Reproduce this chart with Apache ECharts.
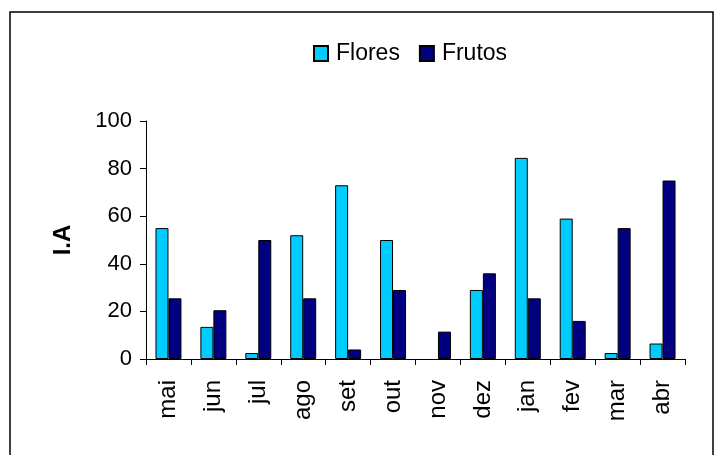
<!DOCTYPE html>
<html>
<head>
<meta charset="utf-8">
<script src="https://cdn.jsdelivr.net/npm/echarts@6/dist/echarts.min.js"></script>
<style>
html,body{margin:0;padding:0;background:#fff;}
#chart{width:720px;height:455px;}
</style>
</head>
<body>
<div id="chart"></div>
<script>
// meses
var meses = ['mai','jun','jul','ago','set','out','nov','dez','jan','fev','mar','abr'];
var flores = [55, 13.5, 2.5, 52, 73, 50, 0, 29, 84.5, 59, 2.5, 6.5];
var frutos = [25.5, 20.5, 50, 25.5, 4, 29, 11.5, 36, 25.5, 16, 55, 75];
var yTicks = [0, 20, 40, 60, 80, 100];

var fonte = 'Liberation Sans, Arial, sans-serif';

// barras com valor 0 ficam sem contorno
function semZero(arr){
  return arr.map(function(v){
    return v === 0 ? {value: v, itemStyle: {borderWidth: 0}} : v;
  });
}

var chart = echarts.init(document.getElementById('chart'));
var option = {
  backgroundColor: '#ffffff',
  animation: false,
  graphic: [{
    type: 'rect',
    shape: {x: 10, y: 12, width: 703, height: 460},
    style: {fill: 'none', stroke: '#000', lineWidth: 1.5},
    silent: true
  }],
  legend: {
    top: 37,
    left: 308,
    icon: 'rect',
    itemWidth: 14,
    itemHeight: 15,
    itemGap: 19,
    textStyle: {fontFamily: fonte, fontSize: 23, color: '#000', padding: [0, 0, 0, 3]},
    data: ['Flores', 'Frutos']
  },
  grid: {left: 146, right: 35, top: 121, bottom: 96},
  xAxis: {
    type: 'category',
    data: meses,
    axisLine: {lineStyle: {color: '#000', width: 1}},
    axisTick: {show: true, length: 6, lineStyle: {color: '#000'}},
    axisLabel: {rotate: 90, margin: 21, fontFamily: fonte, fontSize: 24, color: '#000'}
  },
  yAxis: {
    type: 'value',
    min: yTicks[0],
    max: yTicks[yTicks.length - 1],
    interval: 20,
    name: 'I.A',
    nameLocation: 'middle',
    nameGap: 71,
    nameTextStyle: {fontFamily: fonte, fontSize: 24, fontWeight: 'bold', color: '#000'},
    axisLine: {show: true, lineStyle: {color: '#000', width: 1}},
    axisTick: {show: true, length: 6, lineStyle: {color: '#000'}},
    splitLine: {show: false},
    axisLabel: {margin: 14, fontFamily: fonte, fontSize: 22, color: '#000'}
  },
  series: [
    {
      name: 'Flores',
      type: 'bar',
      data: semZero(flores),
      barWidth: 13,
      barGap: '0%',
      itemStyle: {color: '#00CCFF', borderColor: '#000', borderWidth: 1}
    },
    {
      name: 'Frutos',
      type: 'bar',
      data: semZero(frutos),
      barWidth: 13,
      barGap: '0%',
      itemStyle: {color: '#000080', borderColor: '#000', borderWidth: 1}
    }
  ]
};
chart.setOption(option);
</script>
</body>
</html>
